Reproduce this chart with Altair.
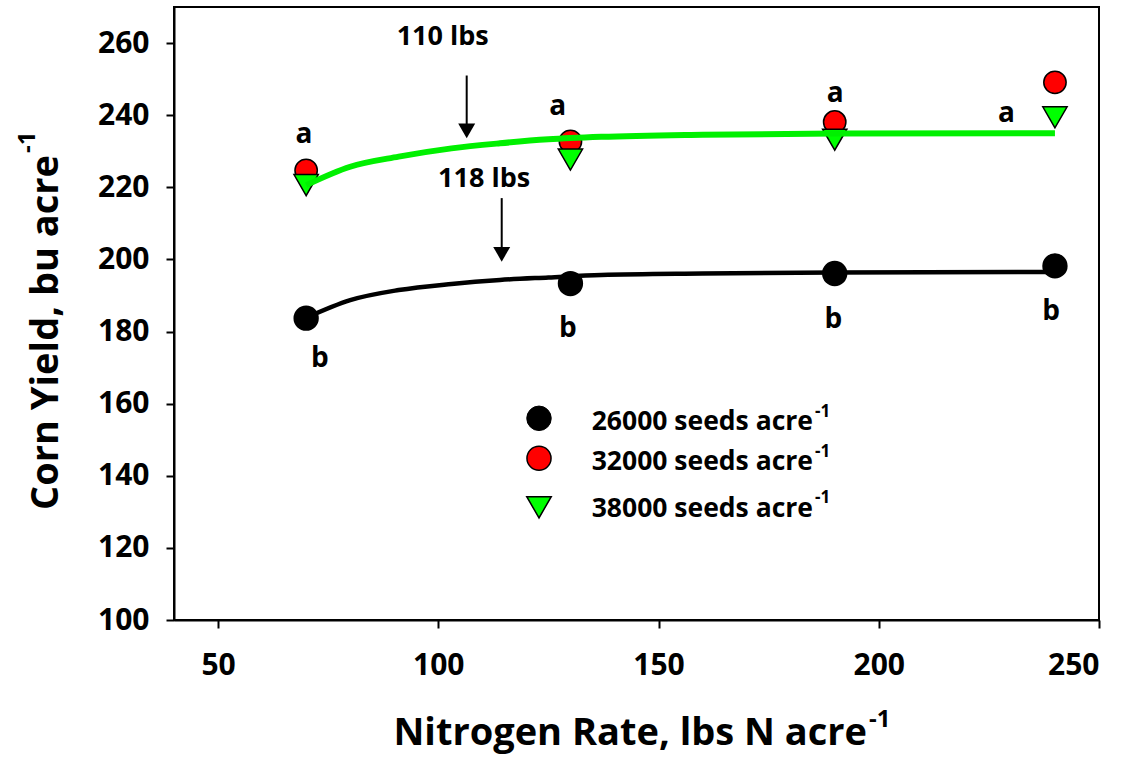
import altair as alt
import pandas as pd

FONT = "Open Sans"

# ---------------- data ----------------
n_rate = [70, 130, 190, 240]
yield_26000 = [183.7, 193.3, 196.1, 198.2]
yield_32000 = [224.7, 232.7, 238.1, 249.1]
yield_38000 = [220.6, 227.7, 233.2, 239.4]

fit_n = [70, 80, 91, 103, 114, 125, 137, 160, 190, 240]
fit_26000 = [183.8, 188.7, 191.5, 193.2, 194.3, 195.0, 195.7, 196.1, 196.4, 196.5]
fit_high = [220.6, 225.7, 228.5, 230.8, 232.2, 233.3, 234.0, 234.6, 234.9, 235.0]

letter_text = ["a", "a", "a", "a", "b", "b", "b", "b"]
letter_n = [69.5, 127.1, 190.1, 229.0, 73.1, 129.4, 189.7, 239.1]
letter_y = [232.3, 240.0, 243.7, 238.2, 170.3, 178.6, 180.9, 183.2]

opt_label = ["110 lbs", "118 lbs"]
opt_label_n = [101.0, 110.4]
opt_label_y = [259.5, 220.2]
opt_arrow_n = [106.45, 114.4]
opt_arrow_top = [251.0, 217.0]
opt_arrow_tip = [233.6, 199.4]

legend_seed = ["26000 seeds acre", "32000 seeds acre", "38000 seeds acre"]
x_ticks = [50, 100, 150, 200, 250]
y_ticks = [100, 120, 140, 160, 180, 200, 220, 240, 260]

x_title = "Nitrogen Rate, lbs N acre"
y_title = "Corn Yield, bu acre"
sup = "-1"

# ---------------- layout ----------------
W, H = 925, 613
PAD = {"left": 174, "top": 7, "right": 31, "bottom": 145}

xs = alt.Scale(domain=[40, 250], nice=False, zero=False)
ys = alt.Scale(domain=[100, 270], nice=False, zero=False)

x_axis = alt.Axis(values=x_ticks, title=None, grid=False, labelPadding=22, format="d")
y_axis = alt.Axis(values=y_ticks, title=None, grid=False, labelPadding=17, format="d")

def X(field="n"):
    return alt.X(f"{field}:Q", scale=xs, axis=x_axis)

def Y(field="y"):
    return alt.Y(f"{field}:Q", scale=ys, axis=y_axis)

df26 = pd.DataFrame({"n": n_rate, "y": yield_26000})
df32 = pd.DataFrame({"n": n_rate, "y": yield_32000})
df38 = pd.DataFrame({"n": n_rate, "y": yield_38000})
fit26 = pd.DataFrame({"n": fit_n, "y": fit_26000})
fithi = pd.DataFrame({"n": fit_n, "y": fit_high})
letters = pd.DataFrame({"n": letter_n, "y": letter_y, "t": letter_text})
opt_txt = pd.DataFrame({"n": opt_label_n, "y": opt_label_y, "t": opt_label})
arrows = pd.DataFrame({"n": opt_arrow_n, "y": opt_arrow_top, "y2": opt_arrow_tip})
heads = pd.DataFrame({"n": opt_arrow_n, "y": opt_arrow_tip})
one = pd.DataFrame({"k": [0]})

black_pts = alt.Chart(df26).mark_point(
    shape="circle", filled=True, fill="black", stroke="black", size=545, opacity=1
).encode(x=X(), y=Y())

red_pts = alt.Chart(df32).mark_point(
    shape="circle", filled=True, fill="#ff0000", stroke="black", strokeWidth=1.5, size=500, opacity=1
).encode(x=X(), y=Y())

green_pts = alt.Chart(df38).mark_point(
    shape="triangle-down", filled=True, fill="#00ff00", stroke="black", strokeWidth=1.5, size=590, opacity=1
).encode(x=X(), y=Y())

line26 = alt.Chart(fit26).mark_line(color="black", strokeWidth=4.5, interpolate="monotone").encode(x=X(), y=Y())
linehi = alt.Chart(fithi).mark_line(color="#00f000", strokeWidth=6, interpolate="monotone").encode(x=X(), y=Y())

letter_layer = alt.Chart(letters).mark_text(
    font=FONT, fontSize=28, fontWeight="bold", color="black", align="center", baseline="alphabetic"
).encode(x=X(), y=Y(), text="t:N")

opt_text_layer = alt.Chart(opt_txt).mark_text(
    font=FONT, fontSize=27, fontWeight="bold", color="black", align="center", baseline="alphabetic"
).encode(x=X(), y=Y(), text="t:N")

arrow_shaft = alt.Chart(arrows).mark_rule(color="black", strokeWidth=2, y2Offset=-8).encode(
    x=X(), y=Y(), y2="y2:Q"
)
arrow_head = alt.Chart(heads).mark_point(
    shape="triangle-down", filled=True, fill="black", strokeWidth=0, size=289, yOffset=-7.3, opacity=1
).encode(x=X(), y=Y())

# axis titles (with raised "-1")
title_style = dict(font=FONT, fontWeight="bold", color="black")
xt_main = alt.Chart(one).mark_text(fontSize=38, align="right", baseline="alphabetic", **title_style).encode(
    x=alt.value(693), y=alt.value(738), text=alt.value(x_title))
xt_sup = alt.Chart(one).mark_text(fontSize=24, align="left", baseline="alphabetic", **title_style).encode(
    x=alt.value(695), y=alt.value(720), text=alt.value(sup))
yt_main = alt.Chart(one).mark_text(fontSize=38, align="right", baseline="alphabetic", angle=270, **title_style).encode(
    x=alt.value(-116), y=alt.value(148), text=alt.value(y_title))
yt_sup = alt.Chart(one).mark_text(fontSize=24, align="left", baseline="alphabetic", angle=270, **title_style).encode(
    x=alt.value(-139), y=alt.value(146), text=alt.value(sup))

# legend
LEG_SYM_X = 365
LEG_TEXT_END = 639
LEG_SYM_Y = [411.3, 451.3, 500.3]
LEG_TEXT_Y = [423, 463, 509.7]
LEG_SUP_Y = [409.7, 449.7, 496.3]
leg_styles = [
    dict(shape="circle", fill="black", stroke="black", strokeWidth=1, size=600),
    dict(shape="circle", fill="#ff0000", stroke="black", strokeWidth=1.5, size=580),
    dict(shape="triangle-down", fill="#00ff00", stroke="black", strokeWidth=1.5, size=600),
]
legend_layers = []
for i, lab in enumerate(legend_seed):
    legend_layers.append(
        alt.Chart(one).mark_point(filled=True, opacity=1, **leg_styles[i]).encode(
            x=alt.value(LEG_SYM_X), y=alt.value(LEG_SYM_Y[i]))
    )
    legend_layers.append(
        alt.Chart(one).mark_text(font=FONT, fontSize=26.5, fontWeight="bold", color="black",
                                 align="right", baseline="alphabetic").encode(
            x=alt.value(LEG_TEXT_END), y=alt.value(LEG_TEXT_Y[i]), text=alt.value(lab))
    )
    legend_layers.append(
        alt.Chart(one).mark_text(font=FONT, fontSize=17, fontWeight="bold", color="black",
                                 align="left", baseline="alphabetic").encode(
            x=alt.value(LEG_TEXT_END + 2), y=alt.value(LEG_SUP_Y[i]), text=alt.value(sup))
    )

chart = alt.layer(
    black_pts, red_pts, green_pts, line26, linehi,
    letter_layer, opt_text_layer, arrow_shaft, arrow_head,
    xt_main, xt_sup, yt_main, yt_sup, *legend_layers
).properties(
    width=W, height=H, autosize=alt.AutoSizeParams(type="none"), padding=PAD, background="white"
).configure_view(
    stroke="black", strokeWidth=2
).configure_axis(
    domainColor="black", domainWidth=2, tickColor="black", tickWidth=2, tickSize=8,
    labelFont=FONT, labelFontWeight="bold", labelFontSize=30, labelColor="black"
)

chart.save("out.html", embed_options={"renderer": "svg", "actions": False})
